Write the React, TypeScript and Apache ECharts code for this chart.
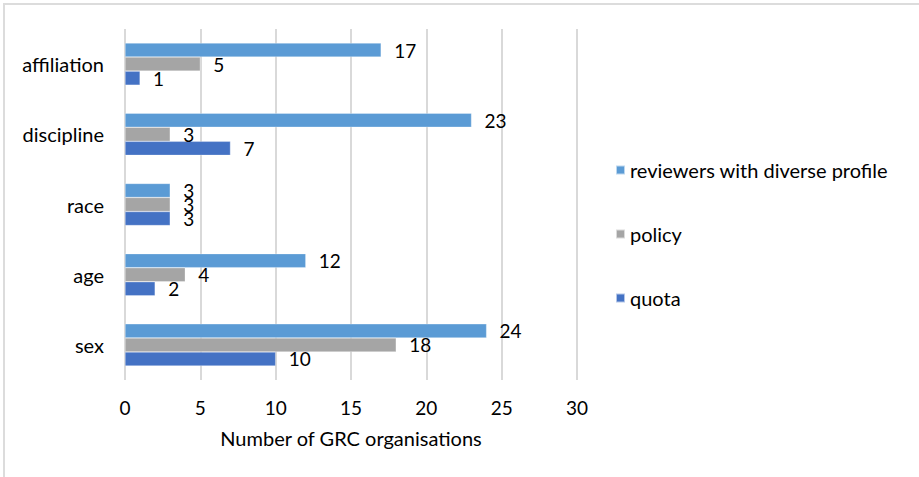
import React, { useEffect, useRef } from "react";
import * as echarts from "echarts";

const categories = ["sex", "age", "race", "discipline", "affiliation"];
const quota = [10, 2, 3, 7, 1];
const policy = [18, 4, 3, 3, 5];
const reviewers = [24, 12, 3, 23, 17];
const xTicks = [0, 5, 10, 15, 20, 25, 30];

const FONT = "Lato, 'Liberation Sans', sans-serif";

export default function App() {
  const ref = useRef<HTMLDivElement>(null);
  useEffect(() => {
    if (!ref.current) return;
    const chart = echarts.init(ref.current, undefined, { renderer: "svg" });
    const label = {
      show: true,
      position: "right" as const,
      distance: 13,
      color: "#000",
      fontSize: 19,
      fontFamily: FONT,
    };
    const mk = (name: string, data: number[], color: string) => ({
      name,
      type: "bar" as const,
      data,
      barGap: "0%",
      barCategoryGap: "40%",
      itemStyle: { color, borderColor: "rgba(255,255,255,0.6)", borderWidth: 0.5 },
      label,
    });
    chart.setOption({
      animation: false,
      backgroundColor: "#fff",
      textStyle: { fontFamily: FONT },
      graphic: [
        { type: "line", shape: { x1: 4, y1: 3, x2: 4, y2: 477 }, style: { stroke: "#dcdcdc", lineWidth: 2 } },
        { type: "line", shape: { x1: 3, y1: 4, x2: 919, y2: 4 }, style: { stroke: "#dcdcdc", lineWidth: 2 } },
      ],
      grid: { left: 125, right: 342, top: 29, bottom: 97, containLabel: false },
      legend: {
        orient: "vertical",
        left: 610,
        top: 155,
        itemGap: 44,
        itemWidth: 9,
        itemHeight: 9,
        icon: "rect",
        data: ["reviewers with diverse profile", "policy", "quota"],
        textStyle: { fontSize: 20, color: "#000", fontFamily: FONT },
      },
      xAxis: {
        type: "value",
        min: xTicks[0],
        max: xTicks[xTicks.length - 1],
        interval: 5,
        name: "Number of GRC organisations",
        nameLocation: "middle",
        nameGap: 48,
        nameTextStyle: { fontSize: 20, color: "#000", fontFamily: FONT },
        axisLine: { show: false },
        axisTick: { show: false },
        axisLabel: { fontSize: 19, color: "#000", margin: 18, fontFamily: FONT },
        splitLine: { show: true, lineStyle: { color: "#d9d9d9", width: 2 } },
      },
      yAxis: {
        type: "category",
        data: categories,
        axisLine: { show: false },
        axisTick: { show: false },
        axisLabel: { fontSize: 20, color: "#000", margin: 21, fontFamily: FONT },
      },
      series: [
        mk("reviewers with diverse profile", reviewers, "#5B9BD5"),
        mk("policy", policy, "#A5A5A5"),
        mk("quota", quota, "#4472C4"),
      ],
    });
    return () => chart.dispose();
  }, []);
  return (
    <div
      ref={ref}
      style={{ position: "fixed", left: 0, top: 0, width: 919, height: 477, background: "#fff" }}
    />
  );
}
